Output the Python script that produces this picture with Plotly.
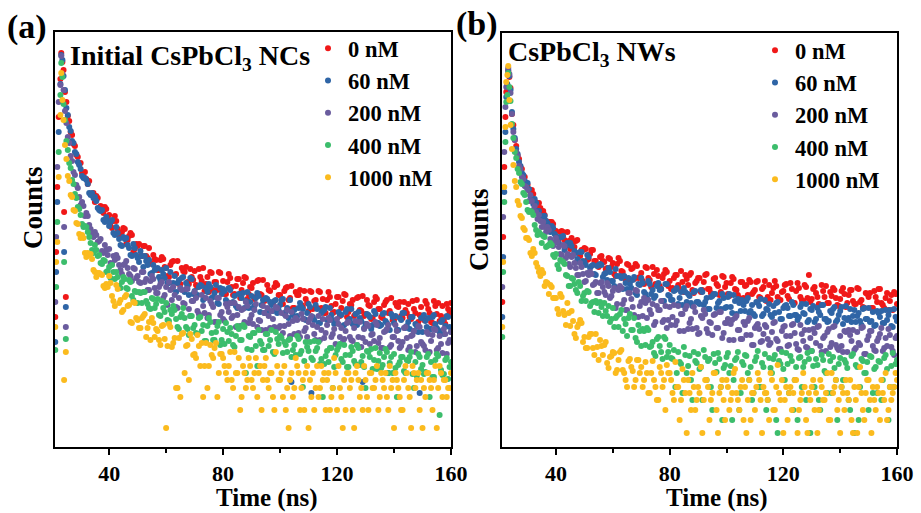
import plotly.graph_objects as go

# Time channels (ns)
time_ns = [22.9, 23.2, 23.6, 24.0, 24.5, 25.0, 25.5, 26.0, 26.5, 27.0, 27.5, 28.0, 28.5, 29.0, 29.5,
           30, 31, 32, 33, 34, 35, 36, 37, 38, 39,
           40, 41, 42, 43, 44, 45, 46, 47, 48, 49,
           50, 51, 52, 53, 54, 55, 56, 57, 58, 59,
           60, 61, 62, 63, 64, 65, 66, 67, 68, 69,
           70, 71, 72, 73, 74, 75, 76, 77, 78, 79,
           80, 81, 82, 83, 84, 85, 86, 87, 88, 89,
           90, 91, 92, 93, 94, 95, 96, 97, 98, 99,
           100, 101, 102, 103, 104, 105, 106, 107, 108, 109,
           110, 111, 112, 113, 114, 115, 116, 117, 118, 119,
           120, 121, 122, 123, 124, 125, 126, 127, 128, 129,
           130, 131, 132, 133, 134, 135, 136, 137, 138, 139,
           140, 141, 142, 143, 144, 145, 146, 147, 148, 149,
           150, 151, 152, 153, 154, 155, 156, 157, 158, 159, 160]
time_half = [30.5, 31.5, 32.5, 33.5, 34.5, 35.5, 36.5, 37.5, 38.5, 39.5,
             40.5, 41.5, 42.5, 43.5, 44.5, 45.5, 46.5, 47.5, 48.5, 49.5,
             50.5, 51.5, 52.5, 53.5, 54.5, 55.5, 56.5, 57.5, 58.5, 59.5,
             60.5, 61.5, 62.5, 63.5, 64.5, 65.5, 66.5, 67.5, 68.5, 69.5,
             70.5, 71.5, 72.5, 73.5, 74.5, 75.5, 76.5, 77.5, 78.5, 79.5,
             80.5, 81.5, 82.5, 83.5, 84.5, 85.5, 86.5, 87.5, 88.5, 89.5,
             90.5, 91.5, 92.5, 93.5, 94.5, 95.5, 96.5, 97.5, 98.5, 99.5,
             100.5, 101.5, 102.5, 103.5, 104.5, 105.5, 106.5, 107.5, 108.5, 109.5,
             110.5, 111.5, 112.5, 113.5, 114.5, 115.5, 116.5, 117.5, 118.5, 119.5,
             120.5, 121.5, 122.5, 123.5, 124.5, 125.5, 126.5, 127.5, 128.5, 129.5,
             130.5, 131.5, 132.5, 133.5, 134.5, 135.5, 136.5, 137.5, 138.5, 139.5,
             140.5, 141.5, 142.5, 143.5, 144.5, 145.5, 146.5, 147.5, 148.5, 149.5,
             150.5, 151.5, 152.5, 153.5, 154.5, 155.5, 156.5, 157.5, 158.5, 159.5]
edge_t_a = [21.1, 21.4, 21.8, 22.3, 24.2, 24.8]
edge_t_b = [21.1, 21.4, 21.8, 22.2, 22.5]

series_names = ["0 nM", "60 nM", "200 nM", "400 nM", "1000 nM"]

# ---------- Panel (a): Initial CsPbCl3 NCs — log10(counts) ----------
a_0nM = [3.68, 3.94, 3.85, 3.77, 3.55, 3.45, 3.31, 3.26, 3.15, 3.12, 3.03, 3.01, 2.92, 2.90, 2.83,
         2.84, 2.70, 2.68, 2.66, 2.53, 2.45, 2.49, 2.41, 2.34, 2.38,
         2.32, 2.19, 2.31, 2.18, 2.11, 2.19, 2.03, 2.11, 2.12, 1.98,
         2.01, 1.91, 2.01, 1.91, 1.99, 1.83, 1.88, 1.77, 1.87, 1.88,
         1.79, 1.70, 1.85, 1.72, 1.86, 1.63, 1.76, 1.80, 1.63, 1.70,
         1.76, 1.60, 1.70, 1.79, 1.63, 1.55, 1.74, 1.65, 1.57, 1.74,
         1.66, 1.53, 1.73, 1.60, 1.53, 1.68, 1.49, 1.64, 1.69, 1.53,
         1.59, 1.48, 1.66, 1.53, 1.67, 1.48, 1.57, 1.43, 1.60, 1.62,
         1.52, 1.43, 1.59, 1.47, 1.61, 1.39, 1.52, 1.57, 1.40, 1.48,
         1.36, 1.55, 1.46, 1.39, 1.55, 1.48, 1.34, 1.55, 1.41, 1.35,
         1.50, 1.31, 1.46, 1.52, 1.35, 1.42, 1.31, 1.49, 1.37, 1.51,
         1.33, 1.42, 1.28, 1.45, 1.48, 1.38, 1.29, 1.45, 1.34, 1.49,
         1.27, 1.41, 1.45, 1.29, 1.37, 1.43, 1.28, 1.38, 1.47, 1.32,
         1.29, 1.46, 1.38, 1.25, 1.46, 1.33, 1.26, 1.41, 1.23, 1.38, 1.44]
a_0nM_half = [2.74, 2.75, 2.63, 2.53, 2.54, 2.51, 2.39, 2.40, 2.40, 2.28,
              2.21, 2.26, 2.26, 2.12, 2.15, 2.18, 2.07, 2.14, 1.95, 2.03,
              2.03, 1.91, 2.01, 1.89, 1.84, 1.92, 1.87, 1.77, 1.90, 1.80,
              1.71, 1.82, 1.86, 1.73, 1.63, 1.79, 1.75, 1.65, 1.78, 1.67,
              1.62, 1.78, 1.66, 1.56, 1.70, 1.75, 1.57, 1.65, 1.75, 1.57,
              1.53, 1.65, 1.69, 1.52, 1.61, 1.68, 1.57, 1.70, 1.48, 1.60,
              1.64, 1.50, 1.67, 1.52, 1.46, 1.62, 1.56, 1.44, 1.64, 1.52,
              1.44, 1.56, 1.60, 1.49, 1.39, 1.55, 1.52, 1.42, 1.56, 1.44,
              1.56, 1.38, 1.47, 1.56, 1.39, 1.34, 1.47, 1.50, 1.34, 1.43,
              1.50, 1.39, 1.53, 1.30, 1.43, 1.47, 1.33, 1.50, 1.36, 1.31,
              1.47, 1.41, 1.29, 1.50, 1.38, 1.30, 1.42, 1.47, 1.36, 1.27,
              1.44, 1.40, 1.31, 1.45, 1.34, 1.30, 1.46, 1.34, 1.25, 1.40,
              1.27, 1.43, 1.34, 1.24, 1.41, 1.44, 1.31, 1.27, 1.43, 1.34]
a_60nM = [3.63, 3.92, 3.87, 3.71, 3.57, 3.39, 3.32, 3.20, 3.16, 3.06, 3.04, 2.95, 2.93, 2.85, 2.82,
          2.78, 2.69, 2.67, 2.54, 2.54, 2.50, 2.39, 2.36, 2.27, 2.30,
          2.21, 2.27, 2.12, 2.14, 2.02, 2.10, 2.09, 1.99, 1.91, 1.99,
          1.89, 1.96, 1.80, 1.86, 1.87, 1.74, 1.77, 1.79, 1.67, 1.73,
          1.79, 1.64, 1.58, 1.71, 1.64, 1.58, 1.70, 1.64, 1.52, 1.68,
          1.56, 1.52, 1.62, 1.47, 1.59, 1.63, 1.49, 1.54, 1.44, 1.59,
          1.58, 1.47, 1.59, 1.44, 1.51, 1.39, 1.53, 1.54, 1.46, 1.39,
          1.51, 1.41, 1.54, 1.35, 1.47, 1.49, 1.36, 1.42, 1.46, 1.34,
          1.42, 1.48, 1.35, 1.29, 0.65, 1.37, 1.31, 1.44, 1.38, 1.27,
          1.43, 0.54, 1.27, 1.38, 1.24, 1.36, 1.40, 1.27, 1.32, 1.23,
          1.24, 1.33, 1.21, 1.35, 1.27, 1.38, 1.24, 1.22, 1.29, 0.65,
          1.23, 1.32, 1.18, 1.36, 1.24, 1.21, 1.33, 1.26, 0.74, 1.33,
          1.24, 1.17, 1.29, 1.34, 1.19, 1.25, 1.30, 1.16, 1.21, 0.54,
          1.15, 1.26, 1.29, 1.18, 1.32, 1.19, 1.15, 1.27, 1.21, 1.30, 1.15]
a_60nM_half = [2.71, 2.69, 2.63, 2.52, 2.49, 2.46, 2.37, 2.37, 2.25, 2.26,
               2.25, 2.14, 2.20, 2.08, 2.01, 2.08, 2.02, 1.92, 2.03, 1.92,
               1.85, 1.91, 1.91, 1.82, 1.73, 1.82, 1.78, 1.70, 1.77, 1.69,
               1.64, 1.75, 1.64, 1.55, 1.67, 1.69, 1.55, 1.61, 1.69, 1.53,
               1.50, 1.60, 1.61, 1.49, 1.55, 1.60, 1.50, 1.62, 1.43, 1.53,
               1.56, 1.45, 1.57, 1.45, 1.41, 1.53, 1.49, 1.39, 1.55, 1.45,
               1.39, 1.49, 1.51, 1.42, 1.34, 1.48, 1.45, 1.36, 1.47, 1.37,
               1.47, 1.33, 1.39, 1.47, 1.32, 1.29, 1.39, 1.40, 1.28, 1.34,
               1.40, 1.30, 1.42, 1.24, 1.34, 1.37, 1.27, 1.39, 1.27, 1.24,
               1.35, 1.32, 1.22, 1.38, 1.28, 1.23, 1.33, 1.35, 1.26, 1.19,
               1.33, 1.30, 1.22, 1.33, 1.24, 1.22, 1.34, 1.24, 1.17, 1.30,
               1.31, 1.17, 1.27, 1.34, 1.21, 1.18, 1.30, 1.23, 1.15, 1.29,
               1.32, 1.20, 1.18, 1.30, 1.23, 1.17, 1.25, 1.13, 1.31, 1.20]
a_200nM = [3.62, 3.91, 3.73, 3.57, 3.36, 3.24, 3.10, 3.04, 2.91, 2.86, 2.75, 2.72, 2.62, 2.59, 2.50,
           2.42, 2.41, 2.34, 2.22, 2.13, 2.15, 2.05, 2.08, 1.94, 1.97,
           1.98, 1.83, 1.87, 1.89, 1.77, 1.82, 1.86, 1.73, 1.66, 1.78,
           1.71, 1.64, 1.75, 1.68, 1.57, 1.71, 1.59, 1.54, 1.63, 1.49,
           1.60, 1.65, 1.47, 1.52, 1.39, 1.59, 1.44, 1.58, 1.38, 1.46,
           1.55, 1.36, 1.31, 1.41, 1.49, 1.32, 1.43, 1.25, 1.49, 1.32,
           1.28, 1.43, 1.35, 1.29, 1.44, 1.32, 1.21, 1.38, 1.45, 1.24,
           1.32, 1.37, 1.20, 1.26, 1.41, 1.17, 1.31, 1.36, 1.20, 1.39,
           1.21, 1.14, 1.31, 1.23, 1.35, 1.13, 1.27, 1.10, 1.28, 1.19,
           1.25, 1.31, 1.13, 1.20, 1.07, 1.28, 1.14, 1.29, 1.10, 1.18,
           1.28, 1.10, 1.05, 1.16, 1.25, 1.07, 1.19, 1.02, 1.25, 1.09,
           1.05, 1.21, 1.12, 1.06, 1.22, 1.09, 0.99, 1.16, 1.22, 1.02,
           1.10, 1.16, 0.99, 1.05, 1.20, 0.97, 1.11, 1.16, 1.01, 1.20,
           1.03, 0.97, 1.13, 1.06, 1.18, 0.97, 1.11, 0.94, 1.13, 1.04, 1.15]
a_200nM_half = [2.45, 2.31, 2.31, 2.18, 2.10, 2.12, 2.06, 1.96, 2.02, 1.92,
                1.84, 1.91, 1.92, 1.82, 1.73, 1.83, 1.79, 1.71, 1.79, 1.69,
                1.65, 1.75, 1.65, 1.57, 1.66, 1.68, 1.54, 1.60, 1.65, 1.52,
                1.42, 1.57, 1.60, 1.40, 1.49, 1.57, 1.43, 1.58, 1.31, 1.46,
                1.49, 1.33, 1.52, 1.34, 1.29, 1.46, 1.40, 1.25, 1.49, 1.35,
                1.26, 1.40, 1.44, 1.31, 1.20, 1.40, 1.37, 1.25, 1.41, 1.28,
                1.23, 1.43, 1.27, 1.17, 1.34, 1.39, 1.19, 1.28, 1.40, 1.19,
                1.34, 1.21, 1.37, 1.11, 1.26, 1.29, 1.14, 1.33, 1.16, 1.10,
                1.28, 1.22, 1.07, 1.31, 1.17, 1.09, 1.22, 1.27, 1.13, 1.03,
                1.23, 1.19, 1.08, 1.24, 1.10, 1.06, 1.26, 1.10, 1.00, 1.18,
                1.23, 1.03, 1.13, 1.25, 1.04, 0.99, 1.15, 1.18, 1.00, 1.10,
                1.22, 1.06, 1.01, 1.19, 1.09, 1.00, 1.12, 0.95, 1.21, 1.05,
                1.01, 1.15, 0.95, 1.12, 1.17, 0.99, 1.03, 1.18, 0.93, 1.07]
a_400nM = [3.52, 3.84, 3.70, 3.43, 3.27, 3.06, 2.97, 2.84, 2.79, 2.67, 2.63, 2.53, 2.49, 2.40, 2.38,
           2.32, 2.20, 2.20, 2.10, 1.97, 2.02, 1.91, 1.84, 1.87, 1.75,
           1.80, 1.82, 1.68, 1.70, 1.59, 1.70, 1.59, 1.67, 1.51, 1.56,
           1.44, 1.54, 1.55, 1.46, 1.39, 1.49, 1.39, 1.48, 1.31, 1.39,
           1.44, 1.26, 1.33, 1.37, 1.20, 1.30, 1.39, 1.20, 1.12, 1.31,
           1.22, 1.13, 1.30, 1.22, 1.06, 1.29, 1.14, 1.07, 1.21, 1.02,
           1.18, 1.24, 1.06, 1.13, 1.00, 1.21, 1.07, 1.22, 0.74, 1.11,
           0.97, 1.14, 0.81, 1.06, 0.97, 1.13, 1.01, 1.17, 0.93, 1.08,
           1.11, 0.94, 1.02, 1.07, 0.90, 1.02, 1.11, 0.93, 0.60, 1.05,
           0.96, 0.89, 1.06, 0.99, 0.83, 0.50, 0.91, 0.85, 0.99, 0.80,
           0.97, 1.03, 0.85, 0.92, 0.80, 1.00, 0.86, 1.02, 0.82, 0.91,
           0.59, 0.95, 0.98, 0.87, 0.78, 0.94, 0.82, 0.98, 0.74, 0.90,
           0.93, 0.50, 0.85, 0.90, 0.74, 0.86, 0.95, 0.59, 0.71, 0.90,
           0.82, 0.75, 0.93, 0.85, 0.70, 0.93, 0.32, 0.72, 0.87, 0.68, 0.85]
a_400nM_half = [2.23, 2.21, 2.15, 2.04, 1.94, 1.97, 1.92, 1.83, 1.86, 1.76,
                1.69, 1.75, 1.75, 1.61, 1.65, 1.68, 1.58, 1.65, 1.47, 1.55,
                1.55, 1.44, 1.55, 1.43, 1.38, 1.48, 1.43, 1.32, 1.46, 1.35,
                1.27, 1.37, 1.41, 1.28, 1.18, 1.33, 1.29, 1.18, 1.31, 1.19,
                1.14, 1.29, 1.16, 1.06, 1.21, 1.25, 1.07, 1.15, 1.25, 1.07,
                1.03, 1.15, 1.19, 1.02, 1.11, 1.18, 1.07, 1.20, 0.98, 1.10,
                1.14, 1.01, 1.17, 1.03, 0.97, 1.13, 1.07, 0.95, 1.15, 1.03,
                1.09, 1.05, 0.95, 1.08, 0.97, 0.92, 1.08, 0.96, 0.86, 1.00,
                1.05, 0.87, 0.96, 1.05, 0.88, 0.83, 0.96, 0.99, 0.59, 0.92,
                1.00, 0.88, 1.02, 0.80, 0.92, 0.96, 0.83, 0.99, 0.85, 0.80,
                0.96, 0.90, 0.78, 0.99, 0.86, 0.79, 0.90, 0.95, 0.84, 0.74,
                0.79, 0.82, 0.90, 0.76, 0.87, 0.90, 0.73, 0.85, 0.93, 0.78,
                0.73, 0.90, 0.50, 0.70, 0.87, 0.91, 0.77, 0.73, 0.89, 0.80]
a_1000nM = [3.32, 3.74, 3.47, 3.27, 3.02, 2.88, 2.71, 2.66, 2.52, 2.50, 2.37, 2.36, 2.24, 2.23, 2.13,
            2.09, 2.09, 1.90, 1.92, 1.88, 1.75, 1.74, 1.73, 1.61, 1.63,
            1.71, 1.51, 1.41, 1.58, 1.47, 1.37, 1.52, 1.42, 1.24, 1.44,
            1.27, 1.19, 1.31, 1.10, 1.25, 1.29, 1.10, 1.16, 1.02, 1.22,
            0.19, 1.23, 1.00, 1.09, 0.59, 0.50, 1.14, 1.01, 0.67, 1.08,
            0.93, 1.12, 0.81, 0.50, 1.04, 0.81, 0.92, 0.99, 0.50, 0.93,
            0.89, 0.74, 0.81, 0.67, 0.95, 0.74, 0.37, 0.81, 0.59, 0.89,
            0.67, 0.74, 0.50, 0.81, 0.67, 0.89, 0.59, 0.74, 0.37, 0.81,
            0.67, 0.50, 0.37, 0.19, 0.74, 0.59, 0.81, 0.37, 0.67, 0.74,
            0.19, 0.50, 0.37, 0.81, 0.59, 0.67, 0.37, 0.74, 0.50, 0.89,
            0.37, 0.59, 0.19, 0.37, 0.74, 0.67, 0.19, 0.81, 0.50, 0.37,
            0.67, 0.37, 0.74, 0.59, 0.81, 0.50, 0.67, 0.74, 0.37, 0.59,
            0.19, 0.67, 0.50, 0.37, 0.81, 0.59, 0.19, 0.74, 0.67, 0.37,
            0.19, 0.50, 0.74, 0.59, 0.67, 0.19, 0.81, 0.50, 0.67, 0.59, 0.74]
a_1000nM_half = [2.12, 1.94, 1.94, 1.93, 1.77, 1.70, 1.74, 1.72, 1.59, 1.60,
                 1.64, 1.46, 1.62, 1.44, 1.35, 1.50, 1.41, 1.25, 1.45, 1.29,
                 1.19, 1.29, 1.33, 1.19, 1.07, 1.24, 1.18, 1.07, 1.21, 1.08,
                 1.01, 1.20, 1.04, 0.59, 1.09, 1.13, 0.74, 1.02, 1.13, 0.92,
                 0.89, 1.01, 1.04, 0.81, 0.59, 1.02, 0.89, 1.04, 0.74, 0.93,
                 0.81, 0.67, 0.95, 0.59, 0.74, 0.89, 0.50, 0.74, 0.67, 0.81,
                 0.59, 0.89, 0.74, 0.37, 0.81, 0.67, 0.74, 0.50, 0.95, 0.67,
                 0.74, 0.81, 0.59, 0.67, 0.50, 0.89, 0.74, 0.59, 0.37, 0.81,
                 0.67, 0.74, 0.59, 0.50, 0.81, 0.74, 0.67, 0.37, 0.59, 0.74,
                 0.81, 0.50, 0.67, 0.74, 0.59, 0.37, 0.74, 0.67, 0.59, 0.81,
                 0.50, 0.74, 0.59, 0.67, 0.37, 0.74, 0.59, 0.50, 0.81, 0.67,
                 0.74, 0.59, 0.37, 0.67, 0.74, 0.50, 0.81, 0.59, 0.74, 0.67,
                 0.59, 0.74, 0.67, 0.37, 0.81, 0.59, 0.74, 0.67, 0.50, 0.59]
a_0nM_edge = [1.30, 1.95, 2.60, 3.30, 2.35, 1.50]
a_60nM_edge = [1.05, 1.75, 2.45, 3.15, 1.95, 1.40]
a_200nM_edge = [1.45, 2.10, 2.80, 3.45, 2.20, 1.20]
a_400nM_edge = [0.97, 1.60, 2.25, 2.95, 1.85, 1.08]
a_1000nM_edge = [1.20, 1.85, 2.05, 2.70, 0.67, 0.95]

# ---------- Panel (b): CsPbCl3 NWs — log10(counts) ----------
b_0nM = [3.58, 3.76, 3.70, 3.59, 3.33, 3.22, 3.07, 3.01, 2.91, 2.88, 2.80, 2.78, 2.71, 2.70, 2.64,
         2.62, 2.52, 2.53, 2.44, 2.44, 2.33, 2.32, 2.23, 2.25, 2.23,
         2.16, 2.08, 2.16, 2.07, 2.15, 1.98, 2.05, 2.06, 1.94, 1.97,
         1.99, 1.87, 1.93, 1.97, 1.86, 1.80, 1.91, 1.85, 1.79, 1.88,
         1.84, 1.71, 1.89, 1.76, 1.70, 1.83, 1.66, 1.79, 1.83, 1.69,
         1.74, 1.63, 1.79, 1.67, 1.80, 1.63, 1.71, 1.58, 1.73, 1.75,
         1.66, 1.59, 1.72, 1.62, 1.76, 1.55, 1.68, 1.72, 1.57, 1.64,
         1.69, 1.55, 1.65, 1.73, 1.58, 1.52, 1.69, 1.61, 1.55, 1.70,
         1.64, 1.51, 1.70, 1.58, 1.52, 1.65, 1.49, 1.62, 1.67, 1.53,
         1.57, 1.66, 1.49, 1.60, 1.46, 1.62, 1.54, 1.66, 1.50, 1.47,
         1.56, 1.63, 1.48, 1.58, 1.44, 1.64, 1.50, 1.46, 1.60, 1.72,
         1.48, 1.60, 1.50, 1.42, 1.56, 1.61, 1.44, 1.51, 1.57, 1.42,
         1.48, 1.59, 1.40, 1.52, 1.57, 1.43, 1.59, 1.45, 1.40, 1.54,
         1.50, 1.39, 1.56, 1.45, 1.58, 1.42, 1.49, 1.37, 1.52, 1.55, 1.43]
b_0nM_half = [2.57, 2.57, 2.46, 2.38, 2.39, 2.36, 2.26, 2.25, 2.25, 2.16,
              2.09, 2.15, 2.15, 2.03, 2.06, 2.09, 2.00, 2.07, 1.91, 1.97,
              1.98, 1.88, 1.97, 1.86, 1.82, 1.90, 1.86, 1.78, 1.89, 1.80,
              1.73, 1.83, 1.86, 1.75, 1.67, 1.82, 1.78, 1.68, 1.81, 1.70,
              1.66, 1.80, 1.69, 1.60, 1.73, 1.77, 1.61, 1.69, 1.77, 1.61,
              1.58, 1.69, 1.72, 1.58, 1.65, 1.72, 1.62, 1.74, 1.54, 1.66,
              1.69, 1.57, 1.72, 1.58, 1.54, 1.68, 1.63, 1.52, 1.71, 1.60,
              1.53, 1.64, 1.68, 1.57, 1.49, 1.65, 1.61, 1.52, 1.65, 1.55,
              1.65, 1.50, 1.58, 1.66, 1.50, 1.47, 1.59, 1.61, 1.47, 1.55,
              1.62, 1.51, 1.64, 1.44, 1.56, 1.59, 1.47, 1.62, 1.49, 1.45,
              1.58, 1.54, 1.43, 1.62, 1.50, 1.44, 1.55, 1.59, 1.49, 1.41,
              1.56, 1.53, 1.44, 1.57, 1.46, 1.43, 1.58, 1.47, 1.39, 1.53,
              1.54, 1.39, 1.50, 1.58, 1.44, 1.39, 1.54, 1.46, 1.37, 1.53]
b_60nM = [3.63, 3.77, 3.71, 3.57, 3.35, 3.18, 3.09, 2.98, 2.93, 2.85, 2.81, 2.74, 2.72, 2.66, 2.64,
          2.64, 2.51, 2.43, 2.44, 2.36, 2.29, 2.31, 2.24, 2.15, 2.19,
          2.11, 2.04, 2.10, 1.97, 2.04, 2.04, 1.92, 1.94, 1.85, 1.95,
          1.85, 1.92, 1.79, 1.82, 1.72, 1.82, 1.82, 1.73, 1.67, 1.75,
          1.66, 1.78, 1.58, 1.69, 1.71, 1.58, 1.63, 1.67, 1.54, 1.63,
          1.69, 1.55, 1.49, 1.63, 1.57, 1.51, 1.64, 1.58, 1.46, 1.63,
          1.51, 1.47, 1.57, 1.43, 1.55, 1.59, 1.45, 1.51, 1.41, 1.56,
          1.45, 1.57, 1.42, 1.49, 1.38, 1.51, 1.53, 1.44, 1.38, 1.49,
          1.40, 1.53, 1.34, 1.46, 1.48, 1.36, 1.42, 1.46, 1.34, 1.42,
          1.31, 1.44, 1.48, 1.33, 1.38, 1.43, 1.30, 1.34, 1.45, 1.28,
          1.39, 1.42, 1.31, 1.45, 1.32, 1.27, 1.40, 1.34, 1.43, 1.27,
          1.37, 1.25, 1.39, 1.32, 1.42, 1.28, 1.26, 1.34, 1.40, 1.27,
          1.36, 1.23, 1.41, 1.29, 1.25, 1.37, 1.31, 1.26, 1.38, 1.28,
          1.39, 1.26, 1.21, 1.36, 1.30, 1.24, 1.37, 1.32, 1.21, 1.38, 1.26]
b_60nM_half = [2.58, 2.48, 2.48, 2.36, 2.30, 2.31, 2.26, 2.17, 2.21, 2.13,
               2.05, 2.10, 2.11, 2.01, 1.92, 2.01, 1.96, 1.88, 1.95, 1.86,
               1.82, 1.90, 1.81, 1.73, 1.81, 1.83, 1.70, 1.74, 1.79, 1.66,
               1.61, 1.71, 1.71, 1.58, 1.64, 1.69, 1.59, 1.70, 1.52, 1.62,
               1.64, 1.53, 1.66, 1.53, 1.49, 1.61, 1.57, 1.46, 1.63, 1.52,
               1.47, 1.56, 1.59, 1.49, 1.42, 1.55, 1.53, 1.44, 1.55, 1.45,
               1.43, 1.55, 1.45, 1.38, 1.50, 1.53, 1.39, 1.46, 1.53, 1.39,
               1.50, 1.40, 1.52, 1.33, 1.44, 1.47, 1.36, 1.49, 1.36, 1.33,
               1.45, 1.41, 1.31, 1.47, 1.37, 1.32, 1.41, 1.44, 1.35, 1.28,
               1.41, 1.39, 1.31, 1.42, 1.32, 1.30, 1.43, 1.33, 1.25, 1.38,
               1.41, 1.28, 1.35, 1.42, 1.28, 1.25, 1.36, 1.38, 1.25, 1.32,
               1.40, 1.29, 1.27, 1.38, 1.31, 1.25, 1.34, 1.22, 1.39, 1.28,
               1.25, 1.35, 1.22, 1.34, 1.36, 1.24, 1.27, 1.37, 1.20, 1.30]
b_200nM = [3.61, 3.79, 3.73, 3.54, 3.33, 3.15, 3.07, 2.95, 2.91, 2.81, 2.78, 2.70, 2.68, 2.61, 2.60,
           2.57, 2.52, 2.37, 2.35, 2.32, 2.20, 2.20, 2.20, 2.08, 2.01,
           2.09, 2.00, 1.92, 2.01, 1.93, 1.80, 1.92, 1.79, 1.72, 1.80,
           1.65, 1.74, 1.75, 1.62, 1.65, 1.54, 1.65, 1.55, 1.64, 1.49,
           1.56, 1.39, 1.57, 1.59, 1.47, 1.37, 1.54, 1.40, 1.57, 1.30,
           1.45, 1.49, 1.29, 1.37, 1.43, 1.25, 1.37, 1.46, 1.27, 1.19,
           1.40, 1.30, 1.22, 1.41, 1.33, 1.16, 1.41, 1.24, 1.18, 1.35,
           1.13, 1.31, 1.37, 1.18, 1.25, 1.12, 1.33, 1.19, 1.35, 1.14,
           1.24, 1.07, 1.27, 1.29, 1.17, 1.08, 1.25, 1.12, 1.29, 1.02,
           1.19, 1.23, 1.05, 1.13, 1.20, 1.02, 1.15, 1.25, 1.06, 0.98,
           1.20, 1.11, 1.02, 1.22, 1.14, 0.98, 1.22, 1.06, 1.00, 1.17,
           0.96, 1.14, 1.20, 1.01, 1.09, 0.96, 1.18, 1.04, 1.21, 0.99,
           1.11, 0.95, 1.15, 1.17, 1.06, 0.97, 1.15, 1.02, 1.20, 0.93,
           1.11, 1.16, 0.97, 1.06, 1.13, 0.96, 1.09, 1.18, 1.00, 0.92, 1.11]
b_200nM_half = [2.46, 2.46, 2.41, 2.28, 2.26, 2.25, 2.15, 2.17, 2.03, 2.05,
                2.05, 1.93, 2.02, 1.89, 1.83, 1.90, 1.84, 1.72, 1.84, 1.73,
                1.66, 1.72, 1.73, 1.63, 1.54, 1.64, 1.60, 1.52, 1.61, 1.51,
                1.59, 1.43, 1.61, 1.43, 1.37, 1.54, 1.48, 1.32, 1.56, 1.41,
                1.31, 1.44, 1.47, 1.33, 1.22, 1.41, 1.37, 1.25, 1.41, 1.27,
                1.22, 1.42, 1.26, 1.16, 1.33, 1.38, 1.18, 1.28, 1.40, 1.19,
                1.14, 1.29, 1.33, 1.14, 1.24, 1.32, 1.19, 1.35, 1.09, 1.24,
                1.28, 1.23, 1.07, 1.31, 1.17, 1.08, 1.22, 1.26, 1.12, 1.02,
                1.21, 1.18, 1.06, 1.22, 1.08, 1.04, 1.24, 1.08, 0.98, 1.16,
                1.21, 1.01, 1.11, 1.23, 1.03, 0.97, 1.13, 1.17, 0.99, 1.09,
                1.18, 1.04, 1.21, 0.95, 1.11, 1.15, 1.00, 1.20, 1.02, 0.97,
                1.01, 1.16, 0.95, 1.12, 1.17, 0.99, 1.04, 1.19, 0.93, 1.07,
                1.16, 1.01, 0.96, 1.09, 1.19, 0.99, 1.01, 1.12, 0.96, 1.09]
b_400nM = [3.52, 3.74, 3.60, 3.46, 3.23, 3.09, 2.95, 2.89, 2.78, 2.74, 2.65, 2.63, 2.54, 2.52, 2.45,
           2.37, 2.36, 2.32, 2.17, 2.15, 2.04, 2.10, 2.01, 2.04, 1.92,
           1.93, 1.78, 1.86, 1.83, 1.71, 1.61, 1.68, 1.57, 1.65, 1.46,
           1.54, 1.56, 1.41, 1.45, 1.46, 1.34, 1.40, 1.44, 1.31, 1.25,
           1.39, 1.29, 1.20, 1.37, 1.28, 1.11, 1.33, 1.17, 1.09, 1.22,
           1.01, 1.16, 1.19, 1.00, 1.05, 0.91, 1.10, 0.95, 1.10, 0.90,
           1.02, 0.88, 0.60, 0.95, 0.83, 1.00, 0.74, 0.91, 0.47, 0.86,
           0.93, 0.80, 0.97, 0.67, 0.88, 0.37, 0.84, 0.94, 0.60, 0.79,
           0.90, 0.74, 0.27, 0.87, 0.95, 0.54, 0.82, 0.91, 0.67, 0.47,
           0.86, 0.96, 0.60, 0.80, 0.37, 0.89, 0.74, 0.92, 0.14, 0.83,
           0.78, 0.94, 0.54, 0.86, 0.67, 0.27, 0.90, 0.80, 0.47, 0.88,
           0.96, 0.60, 0.82, 0.37, 0.87, 0.74, 0.93, 0.54, 0.79, 0.27,
           0.89, 0.67, 0.84, 0.47, 0.91, 0.14, 0.80, 0.60, 0.86, 0.74,
           0.37, 0.90, 0.78, 0.54, 0.85, 0.67, 0.92, 0.27, 0.81, 0.60, 0.87]
b_400nM_half = [2.35, 2.35, 2.22, 2.12, 2.13, 2.11, 2.00, 2.02, 2.02, 1.90,
                1.82, 1.87, 1.85, 1.72, 1.61, 1.69, 1.63, 1.54, 1.61, 1.51,
                1.46, 1.55, 1.44, 1.35, 1.44, 1.45, 1.31, 1.36, 1.41, 1.28,
                1.20, 1.31, 1.33, 1.16, 1.23, 1.29, 1.17, 1.29, 1.05, 1.16,
                1.18, 1.02, 1.17, 1.01, 0.94, 1.08, 1.01, 0.88, 1.08, 0.95,
                0.89, 0.97, 0.74, 0.85, 0.54, 0.92, 0.81, 0.67, 0.95, 0.84,
                0.78, 0.47, 0.90, 0.86, 0.60, 0.93, 0.75, 0.88, 0.27, 0.82,
                0.94, 0.81, 0.67, 0.89, 0.37, 0.85, 0.92, 0.74, 0.80, 0.54,
                0.90, 0.60, 0.84, 0.93, 0.47, 0.79, 0.88, 0.27, 0.86, 0.95,
                0.67, 0.83, 0.91, 0.37, 0.80, 0.89, 0.60, 0.85, 0.94, 0.14,
                0.81, 0.88, 0.47, 0.92, 0.76, 0.54, 0.86, 0.90, 0.67, 0.83,
                0.60, 0.87, 0.79, 0.37, 0.93, 0.82, 0.27, 0.88, 0.74, 0.85,
                0.91, 0.54, 0.80, 0.86, 0.47, 0.89, 0.78, 0.60, 0.94, 0.83]
b_1000nM = [3.72, 3.81, 3.47, 3.22, 2.98, 2.82, 2.66, 2.60, 2.46, 2.42, 2.31, 2.29, 2.19, 2.17, 2.09,
            2.09, 1.94, 1.98, 1.84, 1.75, 1.77, 1.61, 1.64, 1.62, 1.49,
            1.49, 1.33, 1.50, 1.32, 1.44, 1.21, 1.26, 1.09, 1.23, 1.24,
            1.10, 0.99, 1.13, 0.99, 1.13, 0.87, 1.01, 1.02, 0.84, 0.90,
            0.95, 0.74, 0.87, 0.97, 0.74, 0.60, 0.88, 0.76, 0.67, 0.87,
            0.80, 0.67, 0.74, 0.54, 0.86, 0.60, 0.47, 0.74, 0.67, 0.82,
            0.74, 0.54, 0.85, 0.60, 0.47, 0.67, 0.14, 0.54, 0.74, 0.37,
            0.60, 0.80, 0.47, 0.67, 0.27, 0.54, 0.74, 0.14, 0.60, 0.47,
            0.67, 0.37, 0.54, 0.78, 0.47, 0.60, 0.27, 0.14, 0.67, 0.54,
            0.37, 0.74, 0.47, 0.60, 0.54, 0.27, 0.67, 0.37, 0.82, 0.47,
            0.14, 0.60, 0.54, 0.37, 0.67, 0.14, 0.47, 0.74, 0.27, 0.54,
            0.60, 0.37, 0.14, 0.67, 0.47, 0.54, 0.27, 0.74, 0.60, 0.37,
            0.14, 0.54, 0.67, 0.47, 0.27, 0.60, 0.14, 0.80, 0.37, 0.54,
            0.67, 0.14, 0.47, 0.60, 0.27, 0.54, 0.74, 0.37, 0.47, 0.60, 0.67]
b_1000nM_half = [2.07, 1.91, 1.94, 1.80, 1.71, 1.74, 1.65, 1.53, 1.60, 1.49,
                 1.38, 1.53, 1.36, 1.22, 1.34, 1.36, 1.13, 1.20, 1.27, 1.05,
                 0.99, 1.10, 1.13, 0.92, 1.00, 1.07, 0.92, 1.05, 0.79, 0.91,
                 0.94, 0.77, 0.95, 0.77, 0.67, 0.86, 0.80, 0.60, 0.87, 0.74,
                 0.60, 0.85, 0.54, 0.74, 0.67, 0.47, 0.80, 0.60, 0.37, 0.74,
                 0.67, 0.47, 0.60, 0.27, 0.78, 0.54, 0.67, 0.37, 0.60, 0.47,
                 0.54, 0.14, 0.67, 0.60, 0.47, 0.74, 0.37, 0.54, 0.67, 0.27,
                 0.60, 0.47, 0.74, 0.54, 0.37, 0.67, 0.60, 0.47, 0.27, 0.54,
                 0.60, 0.67, 0.14, 0.54, 0.47, 0.74, 0.37, 0.60, 0.54, 0.67,
                 0.47, 0.27, 0.60, 0.54, 0.67, 0.37, 0.54, 0.60, 0.14, 0.47,
                 0.67, 0.54, 0.37, 0.60, 0.47, 0.74, 0.27, 0.54, 0.67, 0.47,
                 0.60, 0.37, 0.54, 0.67, 0.14, 0.47, 0.60, 0.54, 0.27, 0.67,
                 0.47, 0.60, 0.37, 0.54, 0.67, 0.47, 0.27, 0.60, 0.54, 0.74]
b_0nM_edge = [1.45, 2.10, 2.80, 3.30, 3.55]
b_60nM_edge = [1.30, 1.90, 2.55, 3.15, 3.50]
b_200nM_edge = [1.60, 2.30, 2.95, 3.40, 3.60]
b_400nM_edge = [1.10, 1.75, 2.45, 3.05, 3.45]
b_1000nM_edge = [1.20, 1.85, 2.60, 3.20, 3.65]

colors = ["#F01818", "#2F65A6", "#6A5C9E", "#3CBD6C", "#FBBB1E"]

panel_a = [(a_0nM, a_0nM_half, a_0nM_edge), (a_60nM, a_60nM_half, a_60nM_edge),
           (a_200nM, a_200nM_half, a_200nM_edge), (a_400nM, a_400nM_half, a_400nM_edge),
           (a_1000nM, a_1000nM_half, a_1000nM_edge)]
panel_b = [(b_0nM, b_0nM_half, b_0nM_edge), (b_60nM, b_60nM_half, b_60nM_edge),
           (b_200nM, b_200nM_half, b_200nM_edge), (b_400nM, b_400nM_half, b_400nM_edge),
           (b_1000nM, b_1000nM_half, b_1000nM_edge)]

FONT = "Liberation Serif, Times New Roman, serif"
fig = go.Figure()

for panel, edge_t, xa, ya, lg in [(panel_a, edge_t_a, "x", "y", "legend"),
                                  (panel_b, edge_t_b, "x2", "y2", "legend2")]:
    for (main, half, edge), name, color in zip(panel, series_names, colors):
        assert len(main) == len(time_ns), (name, "main", len(main))
        assert len(half) == len(time_half), (name, "half", len(half))
        assert len(edge) == len(edge_t), (name, "edge")
        xs = edge_t + time_ns + time_half
        ys = [10 ** v for v in edge + main + half]
        fig.add_trace(go.Scatter(
            x=xs, y=ys, mode="markers", name=name,
            marker=dict(size=6, color=color, line=dict(width=0)),
            xaxis=xa, yaxis=ya, legend=lg, showlegend=True))

W, H = 921, 513
def px(v):
    return v / W
def py(v):
    return 1 - v / H

axis_box = dict(showline=True, linecolor="black", linewidth=2, mirror=True,
                showgrid=False, zeroline=False)
xcommon = dict(range=[21, 160], tick0=0, dtick=40, ticks="outside", ticklen=6,
               tickwidth=2, tickcolor="black", ticklabelstandoff=0,
               tickfont=dict(family=FONT, size=22, color="black", weight="bold"),
               minor=dict(tick0=0, dtick=20, ticks="outside", ticklen=4,
                          tickwidth=2, tickcolor="black"),
               **axis_box)
ycommon = dict(type="log", showticklabels=False, ticks="", **axis_box)

legend_common = dict(xanchor="left", yanchor="top", bgcolor="rgba(0,0,0,0)",
                     font=dict(family=FONT, size=22.5, color="black", weight="bold"),
                     traceorder="normal")

fig.update_layout(
    width=W, height=H,
    margin=dict(l=0, r=0, t=0, b=0, autoexpand=False),
    paper_bgcolor="white", plot_bgcolor="white",
    xaxis=dict(domain=[px(55), px(451)], anchor="y", automargin=False, **xcommon),
    yaxis=dict(domain=[py(447), py(32)], anchor="x", automargin=False, range=[0, 4.15], **ycommon),
    xaxis2=dict(domain=[px(502), px(897)], anchor="y2", automargin=False, **xcommon),
    yaxis2=dict(domain=[py(447), py(33)], anchor="x2", automargin=False, range=[0, 4.14], **ycommon),
    legend=dict(x=px(308), y=py(27), **legend_common),
    legend2=dict(x=px(755), y=py(29), **legend_common),
)

def note(text, x, y, size, xanchor="left", angle=0):
    fig.add_annotation(text=text, x=px(x), y=py(y), xref="paper", yref="paper",
                       xanchor=xanchor, yanchor="middle", showarrow=False,
                       textangle=angle,
                       font=dict(family=FONT, size=size, color="black", weight="bold"))

note("(a)", 5, 27, 34)
note("(b)", 454, 24, 34)
note("Initial CsPbCl<sub>3</sub> NCs", 68, 57, 28)
note("CsPbCl<sub>3</sub> NWs", 506, 53, 28)
note("Time (ns)", 267, 498, 25, xanchor="center")
note("Time (ns)", 717, 498, 25, xanchor="center")
note("Counts", 33, 208, 27, xanchor="center", angle=-90)
note("Counts", 479, 230, 27, xanchor="center", angle=-90)

fig.write_html("out.html")
